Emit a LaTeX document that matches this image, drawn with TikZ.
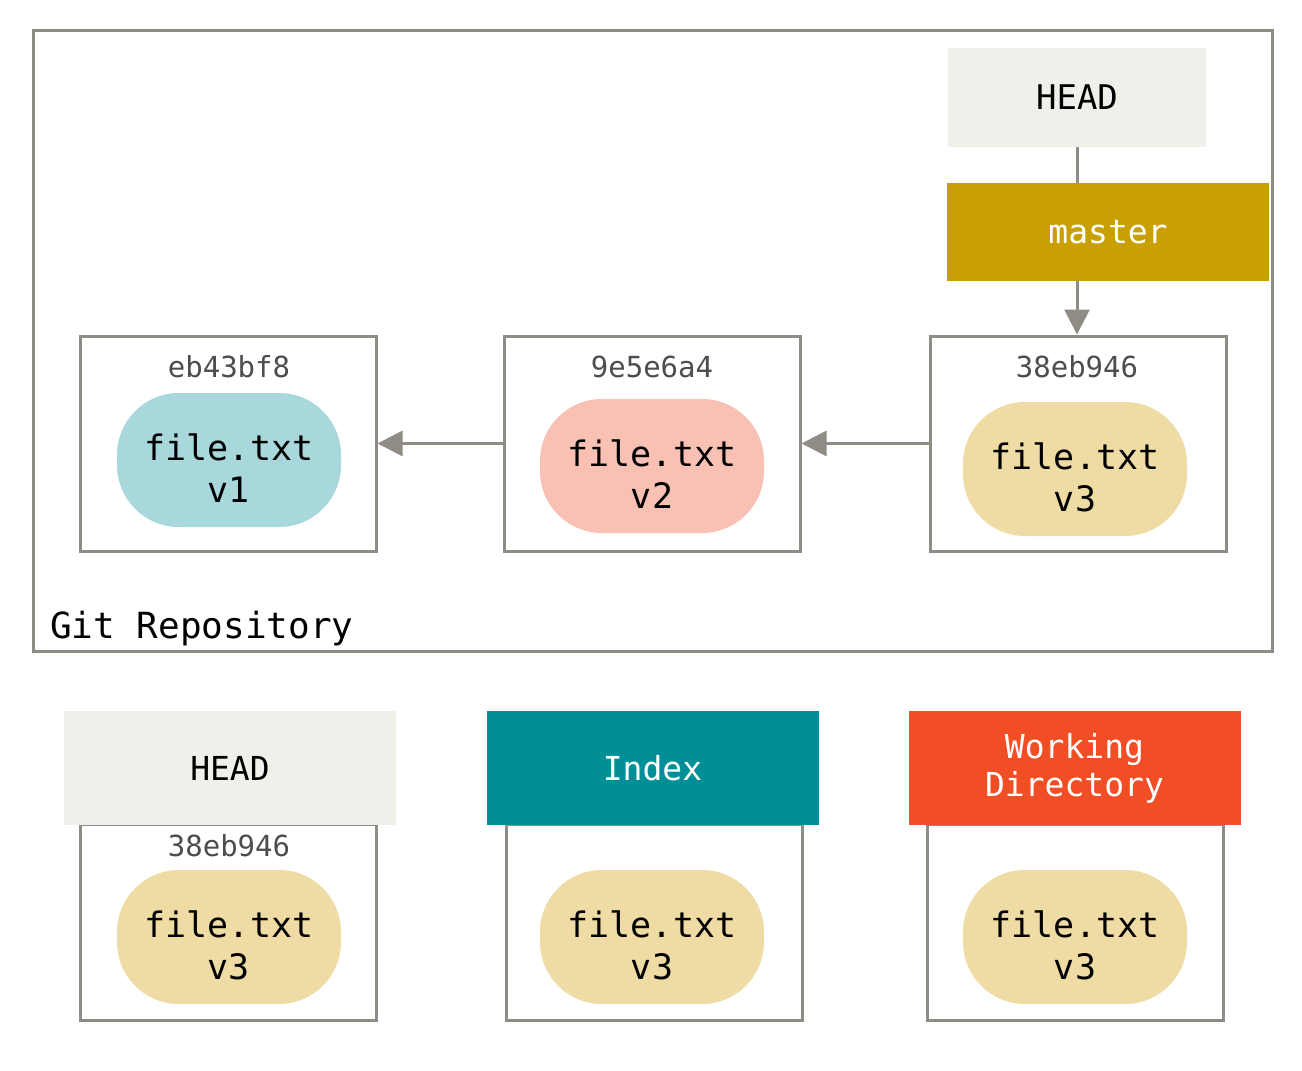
\documentclass[tikz,border=0pt]{standalone}
\usepackage{fontspec}
\setmainfont{DejaVu Sans Mono}
\usetikzlibrary{arrows.meta}
\definecolor{linegray}{HTML}{8E8C84}
\definecolor{headbg}{HTML}{F0EFEA}
\definecolor{masterbg}{HTML}{C9A002}
\definecolor{indexbg}{HTML}{008F97}
\definecolor{wdbg}{HTML}{F24E26}
\definecolor{blueblob}{HTML}{A8D8DC}
\definecolor{redblob}{HTML}{F9C1B3}
\definecolor{yellowblob}{HTML}{EEDCA4}
\definecolor{hashgray}{HTML}{4D4D4D}
\tikzset{
  commitbox/.style={draw=linegray, line width=3pt, fill=white, minimum width=296pt, minimum height=215pt, inner sep=0pt},
  lowbox/.style={draw=linegray, line width=3pt, fill=white, minimum width=296pt, minimum height=196pt, inner sep=0pt},
  blob/.style={rounded corners=62pt, minimum width=224pt, minimum height=134pt, inner sep=0pt},
  blobtext/.style={align=center, inner sep=0pt, yshift=-8pt, font=\fontsize{35}{42}\selectfont},
  hash/.style={text=hashgray, font=\fontsize{29}{34}\selectfont, inner sep=0pt},
  tag/.style={minimum width=332pt, minimum height=114pt, inner sep=0pt, align=center, font=\fontsize{33}{38}\selectfont},
  conn/.style={draw=linegray, line width=3pt},
  arr/.style={conn, -{Triangle[length=25pt,width=25pt]}}
}
\begin{document}
\begin{tikzpicture}[x=1pt,y=-1pt]
\useasboundingbox (0,0) rectangle (1302,1071);
% repository frame
\node[draw=linegray, line width=3pt, minimum width=1239pt, minimum height=621pt, inner sep=0pt] (repo) at (652.5,340.5) {};
\node[anchor=base west, inner sep=0pt, font=\fontsize{36}{40}\selectfont] (repolabel) at (50,638) {Git Repository};
% commits
\node[commitbox] (c1) at (228,443.5) {};
\node[commitbox] (c2) at (652,443.5) {};
\node[commitbox] (c3) at (1078,443.5) {};
\node[hash] (h1) at (229,367) {eb43bf8};
\node[hash] (h2) at (652,367) {9e5e6a4};
\node[hash] (h3) at (1077,367) {38eb946};
\node[blob, fill=blueblob, label={[blobtext]center:file.txt\\v1}] (b1) at (229,460) {};
\node[blob, fill=redblob, label={[blobtext]center:file.txt\\v2}] (b2) at (652,466) {};
\node[blob, fill=yellowblob, label={[blobtext]center:file.txt\\v3}] (b3) at (1075,469) {};
\draw[arr] (c2.west) -- (c1.east);
\draw[arr] (c3.west) -- (c2.east);
% refs
\node[fill=headbg, minimum width=258pt, minimum height=99pt, inner sep=0pt, font=\fontsize{34}{38}\selectfont] (head) at (1077,97.5) {HEAD};
\node[fill=masterbg, minimum width=322pt, minimum height=98pt, inner sep=0pt, text=white, font=\fontsize{33}{38}\selectfont] (master) at (1108,232) {master};
\draw[conn] (head.south) -- (head.south |- master.north);
\draw[arr] (head.south |- master.south) -- (head.south |- c3.north);
% lower three trees
\node[lowbox] (l1) at (228,922) {};
\node[lowbox] (l2) at (654,922) {};
\node[lowbox] (l3) at (1075,922) {};
\node[tag, fill=headbg] (t1) at (230,768) {HEAD};
\node[tag, fill=indexbg, text=white] (t2) at (652.5,768) {Index};
\node[tag, fill=wdbg, text=white] (t3) at (1074.5,768) {Working\\Directory};
\node[hash] (h4) at (229,846) {38eb946};
\node[blob, fill=yellowblob, label={[blobtext]center:file.txt\\v3}] (b4) at (229,937) {};
\node[blob, fill=yellowblob, label={[blobtext]center:file.txt\\v3}] (b5) at (652,937) {};
\node[blob, fill=yellowblob, label={[blobtext]center:file.txt\\v3}] (b6) at (1075,937) {};
\end{tikzpicture}
\end{document}
